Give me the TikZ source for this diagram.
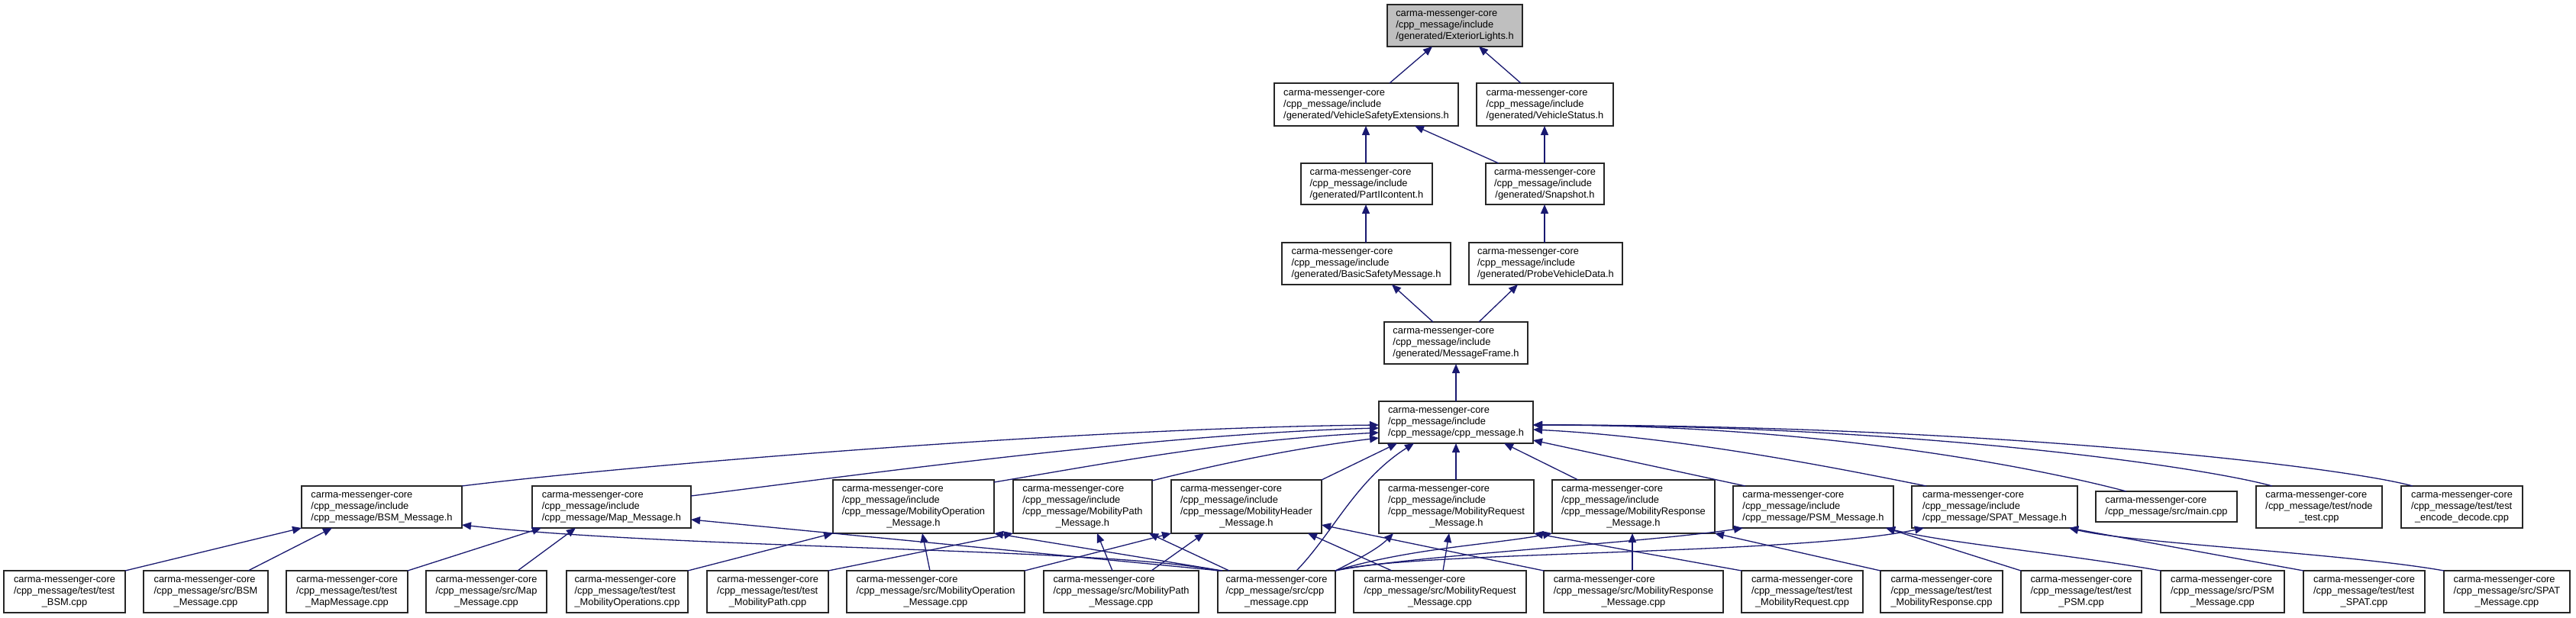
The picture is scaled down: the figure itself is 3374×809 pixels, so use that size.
\documentclass[tikz,border=0pt]{standalone}
\usepackage{fontspec}
\setmainfont{Liberation Sans}
\usetikzlibrary{arrows.meta,calc}
\definecolor{edgeblue}{HTML}{191970}
\definecolor{hilite}{HTML}{BFBFBF}
\newcommand\LabTwo[1]{\begin{tabular}{@{}l@{}}carma-messenger-core\\\multicolumn{1}{@{}c@{}}{#1}\end{tabular}}
\newcommand\LabThree[2]{\begin{tabular}{@{}l@{}}carma-messenger-core\\#1\\\multicolumn{1}{@{}c@{}}{#2}\end{tabular}}
\newcommand\LabFour[3]{\begin{tabular}{@{}l@{}}carma-messenger-core\\#1\\#2\\\multicolumn{1}{@{}c@{}}{#3}\end{tabular}}
\newcommand\Bx[7][]{\node[nbox,#1,minimum width={(#5-#3)*0.5pt},minimum height={(#6-#4)*0.5pt}] (#2) at ({(#3+#5)/2},{(#4+#6)/2}) {#7};}
\tikzset{
  nbox/.style={draw=black!85, line width=0.75pt, fill=white, inner sep=0pt, outer sep=0pt,
    font=\fontsize{6.43}{7.5}\selectfont, align=left},
  dep/.style={draw=edgeblue, line width=0.65pt, -{Triangle[length=6pt,width=5pt]}}
}
\begin{document}
\begin{tikzpicture}[x=0.5pt,y=-0.5pt]
\fill[white] (0,0) rectangle (3374,809);
\useasboundingbox (0,0) rectangle (3374,809);
% top chain
\Bx[fill=hilite]{EL}{1817}{6}{1994}{61}{\LabThree{/cpp\_message/include}{/generated/ExteriorLights.h}}
\Bx{VSE}{1669}{109}{1910}{165}{\LabThree{/cpp\_message/include}{/generated/VehicleSafetyExtensions.h}}
\Bx{VS}{1934}{109}{2113}{165}{\LabThree{/cpp\_message/include}{/generated/VehicleStatus.h}}
\Bx{P2}{1704}{214}{1876}{268}{\LabThree{/cpp\_message/include}{/generated/PartIIcontent.h}}
\Bx{SS}{1946}{214}{2101}{268}{\LabThree{/cpp\_message/include}{/generated/Snapshot.h}}
\Bx{BSMsg}{1679}{318}{1900}{373}{\LabThree{/cpp\_message/include}{/generated/BasicSafetyMessage.h}}
\Bx{PVD}{1924}{318}{2125}{373}{\LabThree{/cpp\_message/include}{/generated/ProbeVehicleData.h}}
\Bx{MF}{1813}{422}{2001}{477}{\LabThree{/cpp\_message/include}{/generated/MessageFrame.h}}
\Bx{CPPH}{1806}{526}{2008}{581}{\LabThree{/cpp\_message/include}{/cpp\_message/cpp\_message.h}}
% level 7
\Bx{BSMh}{395}{637}{605}{692}{\LabThree{/cpp\_message/include}{/cpp\_message/BSM\_Message.h}}
\Bx{Maph}{697}{637}{905}{692}{\LabThree{/cpp\_message/include}{/cpp\_message/Map\_Message.h}}
\Bx{MobOph}{1091}{629}{1302}{699}{\LabFour{/cpp\_message/include}{/cpp\_message/MobilityOperation}{\_Message.h}}
\Bx{MobPathh}{1327}{629}{1509}{699}{\LabFour{/cpp\_message/include}{/cpp\_message/MobilityPath}{\_Message.h}}
\Bx{MobHdrh}{1534}{629}{1731}{699}{\LabFour{/cpp\_message/include}{/cpp\_message/MobilityHeader}{\_Message.h}}
\Bx{MobReqh}{1806}{629}{2009}{699}{\LabFour{/cpp\_message/include}{/cpp\_message/MobilityRequest}{\_Message.h}}
\Bx{MobResph}{2033}{629}{2246}{699}{\LabFour{/cpp\_message/include}{/cpp\_message/MobilityResponse}{\_Message.h}}
\Bx{PSMh}{2270}{637}{2480}{692}{\LabThree{/cpp\_message/include}{/cpp\_message/PSM\_Message.h}}
\Bx{SPATh}{2504}{637}{2721}{692}{\LabThree{/cpp\_message/include}{/cpp\_message/SPAT\_Message.h}}
\Bx{mainc}{2745}{644}{2930}{684}{\LabTwo{/cpp\_message/src/main.cpp}}
\Bx{nodetest}{2955}{637}{3120}{692}{\LabThree{/cpp\_message/test/node}{\_test.cpp}}
\Bx{encdec}{3145}{637}{3304}{692}{\LabThree{/cpp\_message/test/test}{\_encode\_decode.cpp}}
% bottom row
\Bx{tBSM}{5}{748}{164}{803}{\LabThree{/cpp\_message/test/test}{\_BSM.cpp}}
\Bx{sBSM}{188}{748}{351}{803}{\LabThree{/cpp\_message/src/BSM}{\_Message.cpp}}
\Bx{tMap}{375}{748}{534}{803}{\LabThree{/cpp\_message/test/test}{\_MapMessage.cpp}}
\Bx{sMap}{558}{748}{716}{803}{\LabThree{/cpp\_message/src/Map}{\_Message.cpp}}
\Bx{tMobOp}{742}{748}{901}{803}{\LabThree{/cpp\_message/test/test}{\_MobilityOperations.cpp}}
\Bx{tMobPath}{926}{748}{1085}{803}{\LabThree{/cpp\_message/test/test}{\_MobilityPath.cpp}}
\Bx{sMobOp}{1109}{748}{1342}{803}{\LabThree{/cpp\_message/src/MobilityOperation}{\_Message.cpp}}
\Bx{sMobPath}{1367}{748}{1570}{803}{\LabThree{/cpp\_message/src/MobilityPath}{\_Message.cpp}}
\Bx{cppsrc}{1595}{748}{1749}{803}{\LabThree{/cpp\_message/src/cpp}{\_message.cpp}}
\Bx{sMobReq}{1773}{748}{1999}{803}{\LabThree{/cpp\_message/src/MobilityRequest}{\_Message.cpp}}
\Bx{sMobResp}{2022}{748}{2257}{803}{\LabThree{/cpp\_message/src/MobilityResponse}{\_Message.cpp}}
\Bx{tMobReq}{2281}{748}{2440}{803}{\LabThree{/cpp\_message/test/test}{\_MobilityRequest.cpp}}
\Bx{tMobResp}{2463}{748}{2623}{803}{\LabThree{/cpp\_message/test/test}{\_MobilityResponse.cpp}}
\Bx{tPSM}{2647}{748}{2805}{803}{\LabThree{/cpp\_message/test/test}{\_PSM.cpp}}
\Bx{sPSM}{2830}{748}{2992}{803}{\LabThree{/cpp\_message/src/PSM}{\_Message.cpp}}
\Bx{tSPAT}{3017}{748}{3176}{803}{\LabThree{/cpp\_message/test/test}{\_SPAT.cpp}}
\Bx{sSPAT}{3201}{748}{3366}{803}{\LabThree{/cpp\_message/src/SPAT}{\_Message.cpp}}
% top edges
\draw[dep] ($(VSE.north west)+(151,0)$) -- ($(EL.south west)+(59,0)$);
\draw[dep] ($(VS.north west)+(58,0)$) -- ($(EL.south west)+(120,0)$);
\draw[dep] ($(P2.north west)+(85,0)$) -- ($(VSE.south west)+(120,0)$);
\draw[dep] ($(SS.north west)+(17,0)$) -- ($(VSE.south west)+(184,0)$);
\draw[dep] ($(SS.north west)+(77,0)$) -- ($(VS.south west)+(89,0)$);
\draw[dep] ($(BSMsg.north west)+(110,0)$) -- ($(P2.south west)+(85,0)$);
\draw[dep] ($(PVD.north west)+(99,0)$) -- ($(SS.south west)+(77,0)$);
\draw[dep] ($(MF.north west)+(64,0)$) -- ($(BSMsg.south west)+(144,0)$);
\draw[dep] ($(MF.north west)+(124,0)$) -- ($(PVD.south west)+(64,0)$);
\draw[dep] ($(CPPH.north west)+(101,0)$) -- ($(MF.south west)+(94,0)$);
% level 7 -> cpp_message.h
\draw[dep] (BSMh.north east) .. controls +(200,-25) and +(-400,4) .. ($(CPPH.north west)+(0,31)$);
\draw[dep] ($(Maph.north east)+(0,13)$) .. controls +(200,-25) and +(-300,8) .. ($(CPPH.north west)+(0,35)$);
\draw[dep] ($(MobOph.north east)+(0,3)$) .. controls +(150,-25) and +(-200,10) .. ($(CPPH.north west)+(0,41)$);
\draw[dep] ($(MobPathh.north east)+(0,1)$) .. controls +(100,-25) and +(-100,12) .. ($(CPPH.north west)+(0,48)$);
\draw[dep] (MobHdrh.north east) -- ($(CPPH.south west)+(24,0)$);
\draw[dep] ($(cppsrc.north west)+(103,0)$) .. controls +(47,-48) and +(-77,49) .. ($(CPPH.south west)+(46,0)$);
\draw[dep] ($(MobReqh.north west)+(101,0)$) -- ($(CPPH.south west)+(101,0)$);
\draw[dep] ($(MobResph.north west)+(34,0)$) -- ($(CPPH.south west)+(164,0)$);
\draw[dep] ($(PSMh.north west)+(16,0)$) -- ($(CPPH.south east)+(0,-4)$);
\draw[dep] ($(SPATh.north west)+(19,0)$) .. controls +(-100,-20) and +(200,10) .. ($(CPPH.south east)+(0,-18)$);
\draw[dep] ($(mainc.north west)+(40,0)$) .. controls +(-90,-24) and +(400,0) .. ($(CPPH.north east)+(0,31)$);
\draw[dep] ($(nodetest.north west)+(21,0)$) .. controls +(-90,-25) and +(500,0) .. ($(CPPH.north east)+(0,31)$);
\draw[dep] ($(encdec.north west)+(15,0)$) .. controls +(-90,-25) and +(600,0) .. ($(CPPH.north east)+(0,31)$);
% bottom -> level 7
\draw[dep] (tBSM.north east) -- (BSMh.south west);
\draw[dep] ($(sBSM.north west)+(137,0)$) -- ($(BSMh.south west)+(40,0)$);
\draw[dep] (cppsrc.north west) .. controls +(-140,-30) and +(290,32) .. ($(BSMh.south east)+(0,-4)$);
\draw[dep] (tMap.north east) -- ($(Maph.south west)+(12,0)$);
\draw[dep] ($(sMap.north west)+(120,0)$) -- ($(Maph.south west)+(57,0)$);
\draw[dep] ($(cppsrc.north west)+(3,0)$) -- ($(Maph.south east)+(0,-11)$);
\draw[dep] (tMobOp.north east) -- (MobOph.south west);
\draw[dep] ($(sMobOp.north west)+(109,0)$) -- ($(MobOph.south west)+(117,0)$);
\draw[dep] ($(cppsrc.north west)+(6,0)$) -- (MobOph.south east);
\draw[dep] (tMobPath.north east) -- (MobPathh.south west);
\draw[dep] (sMobOp.north east) -- (MobHdrh.south west);
\draw[dep] ($(sMobPath.north west)+(90,0)$) -- ($(MobPathh.south west)+(110,0)$);
\draw[dep] ($(sMobPath.north west)+(141,0)$) -- ($(MobHdrh.south west)+(43,0)$);
\draw[dep] ($(cppsrc.north west)+(15,0)$) -- ($(MobPathh.south east)+(-4,0)$);
\draw[dep] ($(sMobReq.north west)+(50,0)$) -- ($(MobHdrh.south east)+(-18,0)$);
\draw[dep] (sMobResp.north west) -- ($(MobHdrh.south east)+(0,-11)$);
\draw[dep] ($(sMobReq.north west)+(117,0)$) -- ($(MobReqh.south west)+(92,0)$);
\draw[dep] (cppsrc.north east) .. controls +(30,-15) and +(-20,20) .. ($(MobReqh.south west)+(19,0)$);
\draw[dep] (cppsrc.north east) .. controls +(100,-30) and +(-80,15) .. (MobResph.south west);
\draw[dep] (tMobReq.north west) -- (MobReqh.south east);
\draw[dep] ($(sMobResp.north west)+(116,0)$) -- ($(MobResph.south west)+(105,0)$);
\draw[dep] (tMobResp.north west) -- (MobResph.south east);
\draw[dep] (cppsrc.north east) .. controls +(100,-20) and +(-133,20) .. ($(PSMh.south west)+(13,0)$);
\draw[dep] (cppsrc.north east) .. controls +(100,-26) and +(-170,36) .. ($(SPATh.south west)+(16,0)$);
\draw[dep] (tPSM.north west) -- ($(PSMh.south east)+(-10,0)$);
\draw[dep] (sPSM.north west) .. controls +(-130,-23) and +(80,20) .. ($(PSMh.south east)+(-10,0)$);
\draw[dep] (tSPAT.north west) -- ($(SPATh.south east)+(-11,0)$);
\draw[dep] (sSPAT.north west) .. controls +(-130,-23) and +(80,20) .. ($(SPATh.south east)+(-11,0)$);
\end{tikzpicture}
\end{document}
